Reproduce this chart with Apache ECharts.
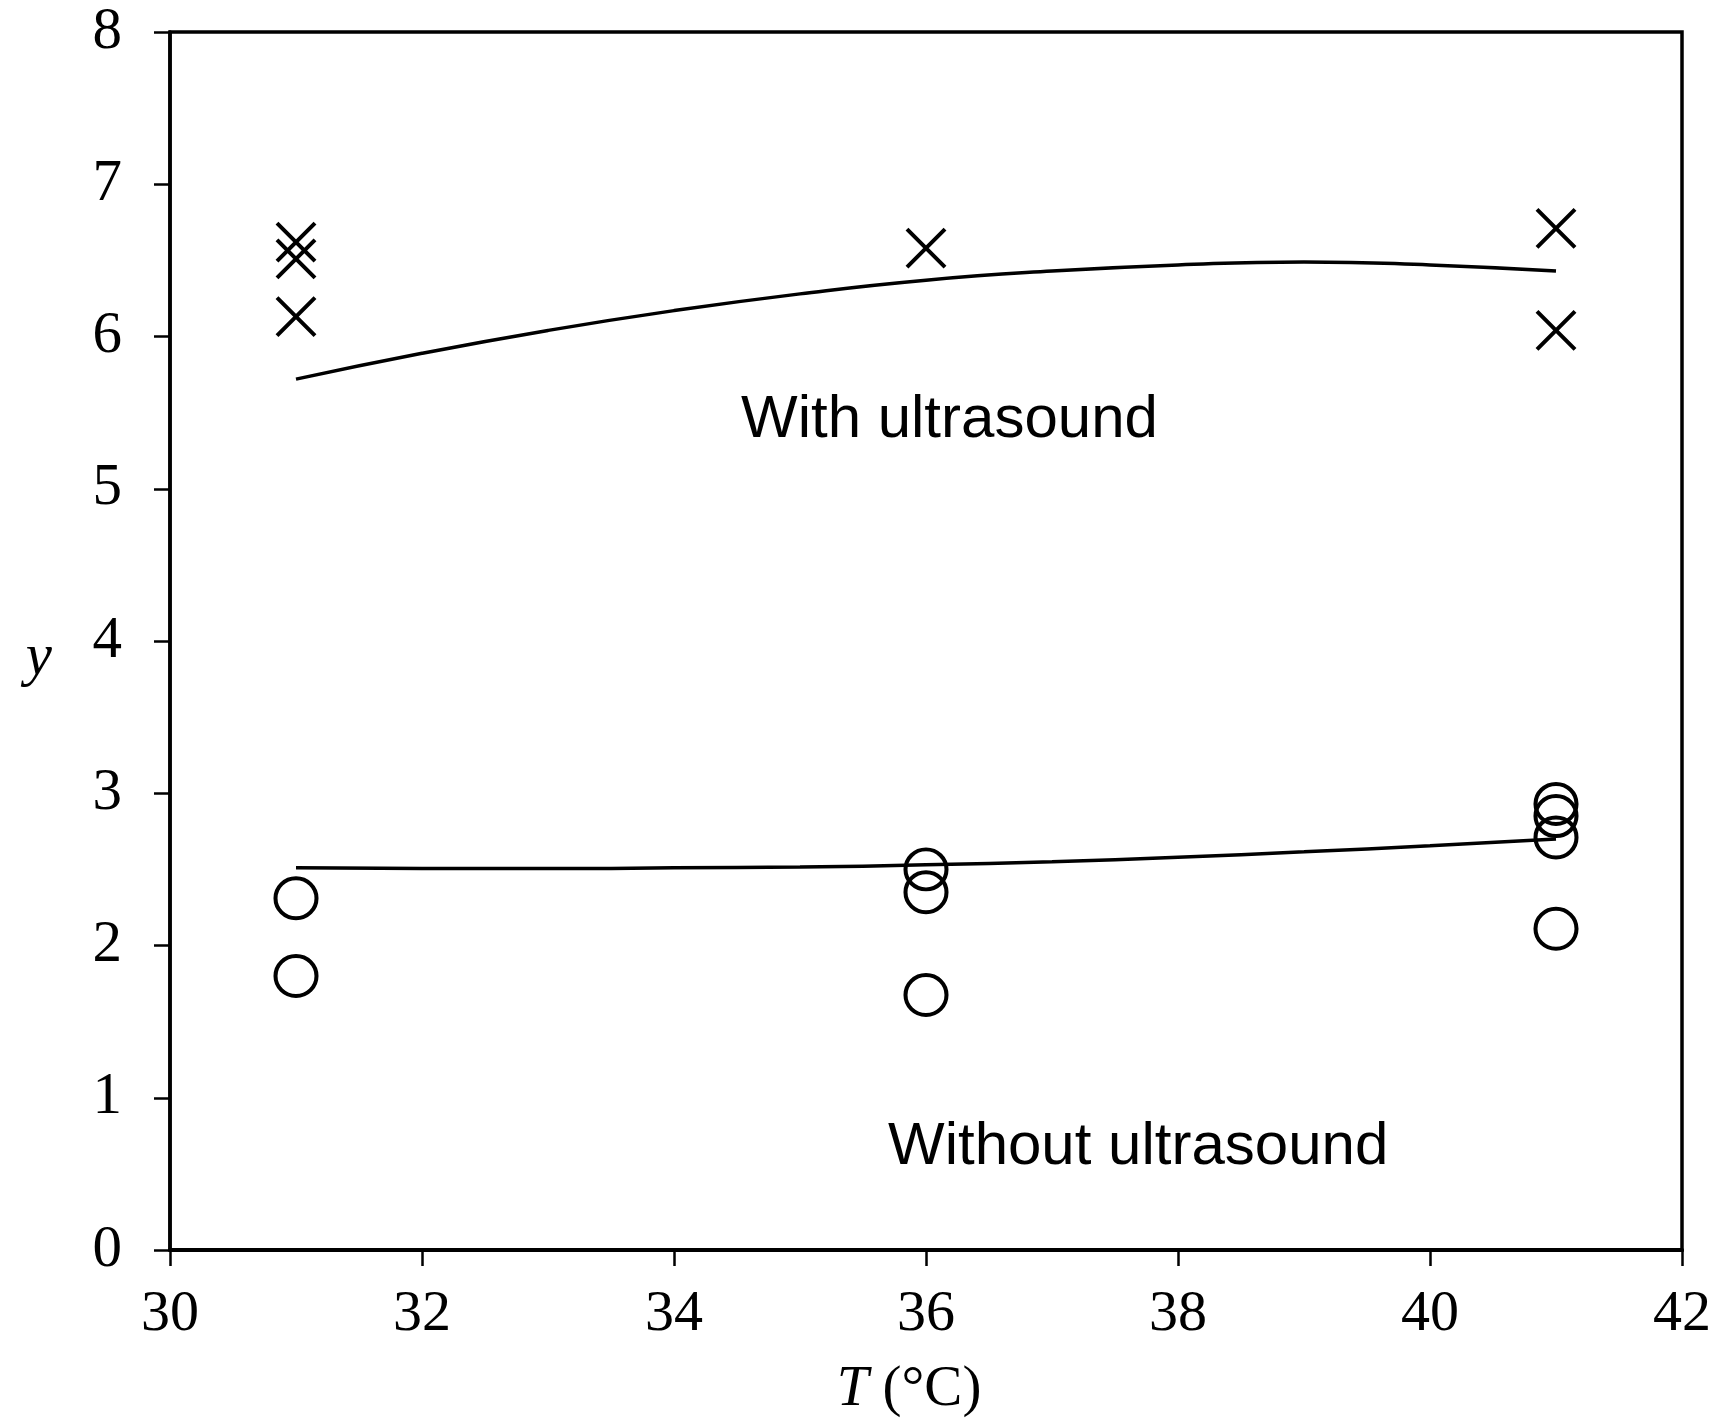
<!DOCTYPE html>
<html>
<head>
<meta charset="utf-8">
<script src="https://cdn.jsdelivr.net/npm/echarts@6/dist/echarts.min.js"></script>
<style>
html,body{margin:0;padding:0;background:#fff;}
#chart{width:1719px;height:1424px;}
</style>
</head>
<body>
<div id="chart"></div>
<script>
// ---- data ----
const withT = [31, 31, 31, 36, 41, 41];
const withY = [6.62, 6.51, 6.13, 6.58, 6.71, 6.04];

const withoutT = [31, 31, 36, 36, 36, 41, 41, 41, 41];
const withoutY = [2.31, 1.80, 2.50, 2.35, 1.675, 2.93, 2.85, 2.71, 2.11];

const fitT = [31, 32, 33, 34, 35, 36, 37, 38, 39, 40, 41];
const fitWithY = [5.72, 5.89, 6.04, 6.17, 6.28, 6.37, 6.43, 6.47, 6.49, 6.47, 6.43];
const fitWithoutY = [2.51, 2.505, 2.505, 2.51, 2.515, 2.53, 2.55, 2.58, 2.615, 2.655, 2.70];

const xTicks = [30, 32, 34, 36, 38, 40, 42];
const yTicks = [0, 1, 2, 3, 4, 5, 6, 7, 8];

const labelWith = 'With ultrasound';
const labelWithout = 'Without ultrasound';

// ---- build ----
const zip = (a, b) => a.map((v, i) => [v, b[i]]);
const serif = '"Liberation Serif", "Times New Roman", serif';
const sans = '"Liberation Sans", Arial, sans-serif';

const chart = echarts.init(document.getElementById('chart'), null, {renderer: 'canvas'});
chart.setOption({
  animation: false,
  backgroundColor: '#fff',
  grid: {left: 170, top: 32, right: 37, bottom: 174, show: true, borderColor: '#000', borderWidth: 3.5, backgroundColor: 'transparent'},
  xAxis: {
    type: 'value', min: xTicks[0], max: xTicks[xTicks.length - 1], interval: 2,
    axisLine: {show: true, lineStyle: {color: '#000', width: 4}},
    axisTick: {show: true, inside: false, length: 16, lineStyle: {color: '#000', width: 2.5}},
    splitLine: {show: false},
    axisLabel: {color: '#000', fontFamily: serif, fontSize: 58, margin: 36},
    name: '{i|T} (°C)',
    nameLocation: 'middle',
    nameGap: 112,
    nameTextStyle: {
      color: '#000', fontFamily: serif, fontSize: 57, padding: [0, 34, 0, 0],
      rich: {i: {fontStyle: 'italic', fontFamily: serif, fontSize: 57, color: '#000'}}
    }
  },
  yAxis: {
    type: 'value', min: yTicks[0], max: yTicks[yTicks.length - 1], interval: 1,
    axisLine: {show: true, lineStyle: {color: '#000', width: 3.5}},
    axisTick: {show: true, inside: false, length: 16, lineStyle: {color: '#000', width: 2.5}},
    splitLine: {show: false},
    axisLabel: {color: '#000', fontFamily: serif, fontSize: 59, margin: 48},
    name: 'y',
    nameLocation: 'middle',
    nameRotate: 0,
    nameGap: 118,
    nameTextStyle: {color: '#000', fontFamily: serif, fontSize: 59, fontStyle: 'italic', verticalAlign: 'top', lineHeight: 34}
  },
  series: [
    {
      type: 'line', data: zip(fitT, fitWithY), smooth: true, showSymbol: false, symbol: 'none',
      lineStyle: {color: '#000', width: 3.5}, silent: true, z: 2
    },
    {
      type: 'line', data: zip(fitT, fitWithoutY), smooth: true, showSymbol: false, symbol: 'none',
      lineStyle: {color: '#000', width: 3.5}, silent: true, z: 2
    },
    {
      type: 'scatter', data: zip(withT, withY),
      symbol: 'path://M0,0L40,40M40,0L0,40', symbolSize: 38,
      itemStyle: {color: 'none', borderColor: '#000', borderWidth: 4, opacity: 1},
      silent: true, z: 3
    },
    {
      type: 'scatter', data: zip(withoutT, withoutY),
      symbol: 'circle', symbolSize: [41, 40],
      itemStyle: {color: 'rgba(0,0,0,0)', borderColor: '#000', borderWidth: 4, opacity: 1},
      silent: true, z: 3
    }
  ],
  graphic: [
    {type: 'text', left: 741, top: 390, style: {text: labelWith, font: '60px ' + sans, fill: '#000'}},
    {type: 'text', left: 888, top: 1117, style: {text: labelWithout, font: '60px ' + sans, fill: '#000'}}
  ]
});
</script>
</body>
</html>
